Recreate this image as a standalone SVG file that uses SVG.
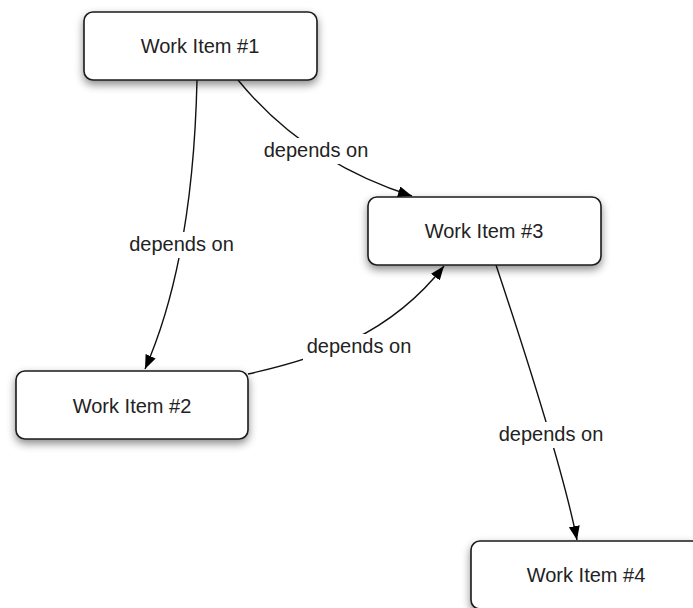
<svg xmlns="http://www.w3.org/2000/svg" width="693" height="608" viewBox="0 0 693 608">
<defs>
<style>
.box{fill:#fff;stroke:#1a1a1a;stroke-width:1.6;filter:url(#sh)}
.nt{font-family:"Liberation Sans",Arial,sans-serif;font-size:20px;fill:#222;text-anchor:middle}
.edge{fill:none;stroke:#111;stroke-width:1.4;marker-end:url(#arr)}
.lbg{fill:#fff}
.lt{font-family:"Liberation Sans",Arial,sans-serif;font-size:20px;fill:#222;text-anchor:middle}
</style>
<filter id="sh" x="-10%" y="-20%" width="120%" height="160%">
<feDropShadow dx="0" dy="4" stdDeviation="4" flood-color="#000" flood-opacity="0.45"/>
</filter>
<marker id="arr" markerUnits="userSpaceOnUse" markerWidth="16" markerHeight="12" refX="14" refY="5.5" orient="auto">
<path d="M0,0 L14,5.5 L0,11 z" fill="#000"/>
</marker>
</defs>
<rect width="693" height="608" fill="#fff"/>
<g id="connectors">
<g id="e1-2">
<path class="edge" d="M197,80 Q193,260 145,369"/>
<rect class="lbg" x="126" y="232" width="111" height="26"/>
<text class="lt" x="181.5" y="251">depends on</text>
</g>
<g id="e1-3">
<path class="edge" d="M238,80 Q305,162 412,196"/>
<rect class="lbg" x="260" y="138" width="112" height="26"/>
<text class="lt" x="316" y="157">depends on</text>
</g>
<g id="e2-3">
<path class="edge" d="M248,374 C320,358 390,335 444,266"/>
<rect class="lbg" x="303" y="334" width="112" height="26"/>
<text class="lt" x="359" y="353">depends on</text>
</g>
<g id="e3-4">
<path class="edge" d="M496,265 Q561.5,461.5 577,540"/>
<rect class="lbg" x="495" y="422" width="112" height="26"/>
<text class="lt" x="551" y="441">depends on</text>
</g>
</g>
<g id="node1">
<rect class="box" x="84" y="12" width="233" height="68" rx="9"/>
<text class="nt" x="200" y="53">Work Item #1</text>
</g>
<g id="node3">
<rect class="box" x="368" y="197" width="233" height="68" rx="9"/>
<text class="nt" x="484" y="238">Work Item #3</text>
</g>
<g id="node2">
<rect class="box" x="16" y="371" width="232" height="68" rx="9"/>
<text class="nt" x="132" y="412.5">Work Item #2</text>
</g>
<g id="node4">
<rect class="box" x="471" y="541" width="230" height="68" rx="9"/>
<text class="nt" x="586" y="582">Work Item #4</text>
</g>
</svg>
